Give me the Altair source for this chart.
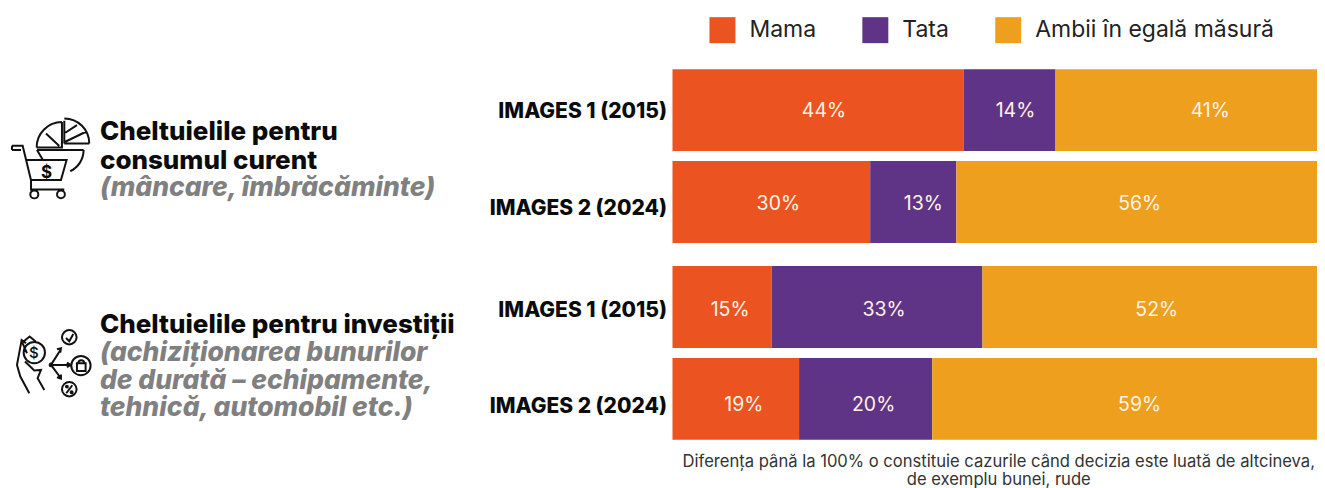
import math
import altair as alt
import pandas as pd

# ---------- data ----------
SERIES = ["Mama", "Tata", "Ambii în egală măsură"]
COLORS = ["#EB5321", "#5F3385", "#EE9F1E"]
ROWS = ["IMAGES 1 (2015)", "IMAGES 2 (2024)"]

CONSUM_MAMA = [44.6, 30.3]
CONSUM_TATA = [14.1, 13.2]
CONSUM_AMBII = [41.3, 56.5]
CONSUM_LABELS = [["44%", "14%", "41%"], ["30%", "13%", "56%"]]

INVEST_MAMA = [15.2, 19.4]
INVEST_TATA = [32.3, 20.4]
INVEST_AMBII = [52.5, 60.2]
INVEST_LABELS = [["15%", "33%", "52%"], ["19%", "20%", "59%"]]

CONSUM_TEXT = ["Cheltuielile pentru", "consumul curent", "(mâncare, îmbrăcăminte)"]
INVEST_TEXT = ["Cheltuielile pentru investiții", "(achiziționarea bunurilor",
               "de durată – echipamente,", "tehnică, automobil etc.)"]
FOOTNOTE = ["Diferența până la 100% o constituie cazurile când decizia este luată de altcineva,",
            "de exemplu bunei, rude"]

# ---------- style ----------
FONT = "Inter"
PLOT_W = 645
FULL_W = 653
PANEL_H = 174
# label nudges in px per row/series
CONSUM_NUDGE = [[6, 6, 20], [7, 10, -1]]
INVEST_NUDGE = [[8, 7, 3], [8, 8, 11]]
CONSUM_DY = [1, 2]
INVEST_DY = [3, 6]
CONSUM_AXIS_DY = (2, 7)
INVEST_AXIS_DY = (4, 8)


def table(mama, tata, ambii, labels):
    recs = []
    for i, row in enumerate(ROWS):
        start = 0.0
        for j, (s, v) in enumerate(zip(SERIES, (mama[i], tata[i], ambii[i]))):
            recs.append({"row": row, "serie": s, "order": j, "start": start, "end": start + v,
                         "mid": start + v / 2, "label": labels[i][j], "key": f"{i}-{j}"})
            start += v
    return pd.DataFrame(recs)


# ---------- icons: built in reference-zoom units, normalised to a symbol box ----------
def icon_maker(ox, oy, cx, cy, box):
    def P(zx, zy):
        px, py = ox + zx / 3, oy + zy / 3
        return (px - cx) / (box / 2), (py - cy) / (box / 2)

    def poly(pts, close=False):
        s = "M" + " L".join("%.4f %.4f" % P(*p) for p in pts)
        return s + (" Z" if close else "")

    def arc(zcx, zcy, r, a0, a1):
        sx, sy = P(zcx + r * math.cos(math.radians(a0)), zcy + r * math.sin(math.radians(a0)))
        ex, ey = P(zcx + r * math.cos(math.radians(a1)), zcy + r * math.sin(math.radians(a1)))
        rn = r / 3 / (box / 2)
        large = 1 if abs(a1 - a0) > 180 else 0
        return f"M{sx:.4f} {sy:.4f} A{rn:.4f} {rn:.4f} 0 {large} 1 {ex:.4f} {ey:.4f}"

    def circle(zcx, zcy, r):
        return arc(zcx, zcy, r, 0, 180) + " " + arc(zcx, zcy, r, 180, 360)

    return poly, arc, circle


ICON_BOX = 82
ICON_CX = 51
# cart + pie icon
poly, arc, circle = icon_maker(0, 100, ICON_CX, 158, ICON_BOX)
CART = " ".join([
    arc(190, 130, 75, -90, 0), poly([(190, 130), (190, 62)]), poly([(190, 130), (265, 130)]),
    poly([(193, 98), (228, 75)]), poly([(193, 125), (255, 95)]),
    arc(183, 142, 76, 180, 270), poly([(107, 142), (183, 142), (183, 66)]), poly([(135, 100), (175, 138)]),
    arc(178, 150, 70, 0, 65), poly([(108, 150), (248, 150)]), poly([(108, 150), (125, 178)]),
    poly([(33, 137), (65, 137), (90, 240), (90, 268), (190, 268)]), poly([(33, 150), (60, 150)]),
    poly([(33, 137), (33, 150)]),
    poly([(75, 180), (197, 180), (180, 240), (90, 240)]),
    circle(100, 283, 12), circle(180, 283, 12),
])
CART_POS = (ICON_CX, 158)

# money / hand icon
poly, arc, circle = icon_maker(0, 300, ICON_CX, 365, ICON_BOX)
MONEY = " ".join([
    circle(100, 158, 32), circle(205, 112, 22), circle(240, 197, 29), circle(205, 268, 22),
    circle(150, 195, 4), circle(150, 195, 2),
    poly([(150, 195), (180, 148)]), poly([(168, 148), (180, 145), (178, 158)]),
    poly([(150, 195), (208, 195)]), poly([(198, 188), (209, 195), (198, 202)]),
    poly([(150, 195), (180, 235)]), poly([(168, 232), (180, 236), (180, 224)]),
    poly([(195, 114), (205, 124), (217, 102)]),
    poly([(228, 190), (254, 190), (254, 213), (228, 213)], True), arc(241, 190, 9, 180, 360),
    poly([(196, 280), (214, 256)]), circle(198, 260, 3), circle(212, 277, 3),
    poly([(64, 128), (86, 110), (104, 125)]), poly([(64, 128), (78, 160)]),
    poly([(75, 130), (62, 120), (48, 195), (58, 230), (85, 280)]),
    poly([(72, 185), (100, 212), (120, 210), (110, 235), (130, 270)]),
])
MONEY_POS = (ICON_CX, 365)


def icon(path, pos, origin):
    return alt.Chart(pd.DataFrame({"k": [0]})).mark_point(
        shape=path, size=ICON_BOX ** 2, filled=False, stroke="#111111", strokeWidth=2, opacity=1
    ).encode(x=alt.value(pos[0] - origin[0]), y=alt.value(pos[1] - origin[1]))


def note(text, px, py, origin, **kw):
    base = dict(font=FONT, align="left", baseline="alphabetic", fontSize=26, fontWeight=800, color="#0b0b0b")
    base.update(kw)
    return alt.Chart(pd.DataFrame({"t": [text]})).mark_text(**base).encode(
        x=alt.value(px - origin[0]), y=alt.value(py - origin[1]), text="t:N")


def panel(df, nudge, dys, axis_dy, legend, axis_x, extra):
    x = alt.X("start:Q", scale=alt.Scale(domain=[0, 100 * PLOT_W / FULL_W], nice=False, clamp=True), axis=axis_x)
    y = alt.Y("row:N", sort=ROWS, title=None,
              scale=alt.Scale(domain=ROWS, paddingInner=10 / 92, paddingOuter=0),
              axis=alt.Axis(ticks=False, domain=False, labelFont=FONT, labelFontWeight=800, labelFontSize=21,
                            labelColor="#0b0b0b", labelPadding=6, labelLimit=300, grid=False,
                            labelOffset={"condition": {"test": f"datum.label == '{ROWS[1]}'", "value": axis_dy[1]},
                                         "value": axis_dy[0]}))
    bars = alt.Chart(df).mark_bar(size=82, opacity=1).encode(
        x=x, x2="end:Q", y=y,
        color=alt.Color("serie:N", scale=alt.Scale(domain=SERIES, range=COLORS), sort=SERIES, legend=legend),
        order="order:Q",
    )
    labels = []
    for i, row in enumerate(ROWS):
        for j in range(len(SERIES)):
            labels.append(
                alt.Chart(df).transform_filter(alt.datum.key == f"{i}-{j}").mark_text(
                    font=FONT, fontSize=19.5, fontWeight=400, color="#FFF3E6", dx=nudge[i][j], dy=dys[i]
                ).encode(x=alt.X("mid:Q"), y=alt.Y("row:N", sort=ROWS), text="label:N")
            )
    return alt.layer(bars, *labels, *extra)


ORIGIN_TOP = (672, 69)
ORIGIN_BOT = (672, 266)
GRAY = "#808080"
GRAY_KW = dict(color=GRAY, fontStyle="italic", fontSize=26.5)

top_extra = [
    icon(CART, CART_POS, ORIGIN_TOP),
    note("$", 40, 178, ORIGIN_TOP, fontSize=17, fontWeight=700),
    note(CONSUM_TEXT[0], 99, 140, ORIGIN_TOP),
    note(CONSUM_TEXT[1], 99, 169, ORIGIN_TOP),
    note(CONSUM_TEXT[2], 99, 196, ORIGIN_TOP, **GRAY_KW),
]
bot_extra = [
    icon(MONEY, MONEY_POS, ORIGIN_BOT),
    note("$", 28, 358, ORIGIN_BOT, fontSize=15, fontWeight=500),
    note(INVEST_TEXT[0], 99, 333, ORIGIN_BOT),
    note(INVEST_TEXT[1], 99, 361, ORIGIN_BOT, **GRAY_KW),
    note(INVEST_TEXT[2], 99, 389, ORIGIN_BOT, **GRAY_KW),
    note(INVEST_TEXT[3], 99, 416, ORIGIN_BOT, **GRAY_KW),
]

legend = alt.Legend(title=None, orient="none", legendX=37, legendY=-52, direction="horizontal", columns=3,
                    symbolType="square", symbolSize=676, symbolStrokeWidth=0, symbolOpacity=1,
                    labelFont=FONT, labelFontSize=23, labelColor="#222222", labelOffset=14,
                    columnPadding=46, labelLimit=400, padding=0)

no_axis = alt.Axis(labels=False, ticks=False, domain=False, grid=False, title=None)
foot_axis = alt.Axis(labels=False, ticks=False, domain=False, grid=False, title=FOOTNOTE, titlePadding=14,
                     titleFont=FONT, titleFontSize=16.6, titleFontWeight=400, titleColor="#333333",
                     titleX=326, titleLineHeight=18)

top = panel(table(CONSUM_MAMA, CONSUM_TATA, CONSUM_AMBII, CONSUM_LABELS), CONSUM_NUDGE, CONSUM_DY, CONSUM_AXIS_DY,
            legend, no_axis, top_extra).properties(width=PLOT_W, height=PANEL_H)
bot = panel(table(INVEST_MAMA, INVEST_TATA, INVEST_AMBII, INVEST_LABELS), INVEST_NUDGE, INVEST_DY, INVEST_AXIS_DY,
            None, foot_axis, bot_extra).properties(width=PLOT_W, height=PANEL_H)

chart = alt.vconcat(top, bot, spacing=23).configure_view(stroke=None).properties(
    padding={"left": 0, "top": 9, "right": 0, "bottom": 0}, background="white")

chart.save("out.html", embed_options={"renderer": "svg", "actions": False})
